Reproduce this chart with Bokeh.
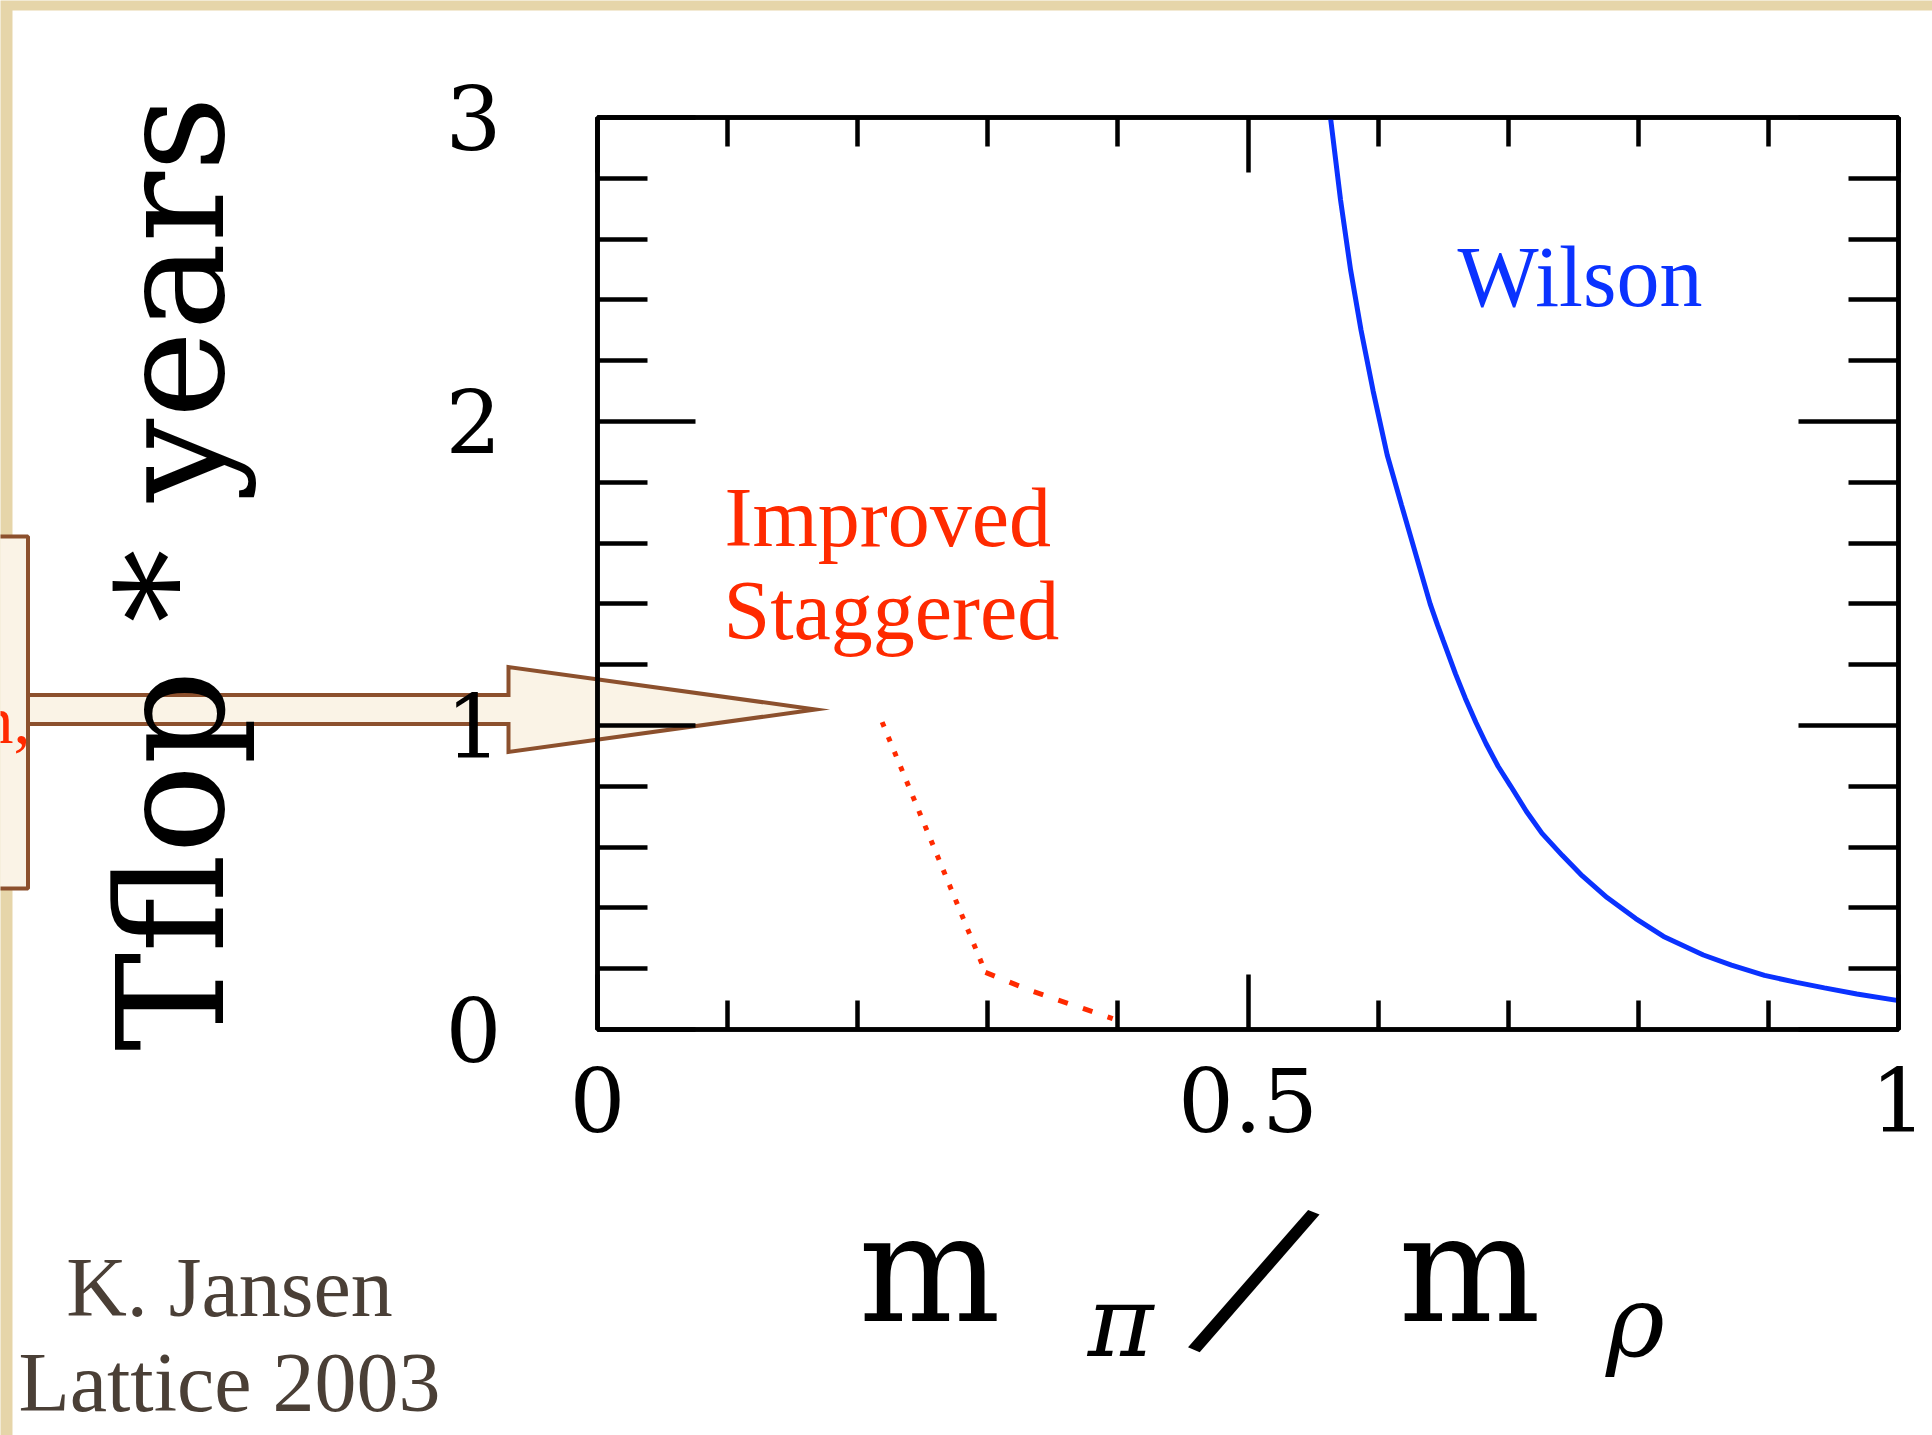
import math

from bokeh.core.properties import value
from bokeh.embed import file_html
from bokeh.models import FixedTicker, GridBox, Label, LinearAxis, Range1d
from bokeh.plotting import figure
from bokeh.resources import INLINE

# Simulation cost in Tflop * years against the mass ratio m_pi / m_rho
wilson_x = [0.5634, 0.5711, 0.5788, 0.5869, 0.5962, 0.607, 0.618, 0.640, 0.6457, 0.650,
            0.6595, 0.667, 0.6752, 0.683, 0.6922, 0.702, 0.7139, 0.726, 0.7417, 0.757,
            0.776, 0.798, 0.8194, 0.850, 0.8716, 0.897, 0.9216, 0.943, 0.968, 1.0]
wilson_y = [3.00, 2.73, 2.50, 2.30, 2.10, 1.89, 1.725, 1.40, 1.33, 1.28,
            1.17, 1.09, 1.01, 0.94, 0.866, 0.80, 0.718, 0.645, 0.572, 0.505,
            0.434, 0.365, 0.306, 0.245, 0.212, 0.178, 0.155, 0.137, 0.117, 0.095]

stag_x = [0.2188, 0.2585, 0.2982, 0.3328, 0.3960]
stag_y = [1.011, 0.600, 0.188, 0.128, 0.036]

x_major = [0, 0.5, 1]
x_tick_labels = ["0", "0.5", "1"]
x_minor = [0.1, 0.2, 0.3, 0.4, 0.6, 0.7, 0.8, 0.9]
y_major = [0, 1, 2, 3]
y_tick_labels = ["0", "1", "2", "3"]
y_minor = [0.2, 0.4, 0.6, 0.8, 1.2, 1.4, 1.6, 1.8, 2.2, 2.4, 2.6, 2.8]

W, H = 1932, 1435
TICK_FONT = "DejaVu Serif"
LABEL_FONT = "Liberation Serif"
BLUE = "#0a32ff"
RED = "#ff2a00"
BROWN = "#8c502d"
CREAM = "#faf3e6"
INK = "#4a3f36"
PAPER = "#e6d5a9"
RULE = 4.5


def free_frame(fig):
    # keep each layer's frame where its own borders put it
    if "frame_align" in fig.properties():
        fig.frame_align = False


# ---- page layer: paper, white sheet, call-out arrow and the texts around the plot
page = figure(width=W, height=H, x_range=Range1d(0, W), y_range=Range1d(H, 0),
              x_axis_type=None, y_axis_type=None, output_backend="svg",
              toolbar_location=None, min_border=0)
free_frame(page)
page.outline_line_color = None
page.background_fill_color = PAPER
page.border_fill_color = PAPER
page.quad(left=[12], right=[W], top=[10], bottom=[H], fill_color="white", line_color=None)

page.quad(left=[-60], right=[27.5], top=[536], bottom=[888],
          fill_color=CREAM, line_color=BROWN, line_width=4)
tip_x, tip_y = 815, 709
head_x, tail_x = 508, 27.5
shaft_half, head_half = 14.5, 42.5
page.patch([tail_x, head_x, head_x, tip_x, head_x, head_x, tail_x],
           [tip_y - shaft_half, tip_y - shaft_half, tip_y - head_half, tip_y,
            tip_y + head_half, tip_y + shaft_half, tip_y + shaft_half],
           fill_color=CREAM, line_color=BROWN, line_width=4, line_join="miter")


def page_text(x, y, text, font, size, color, align="center", baseline="bottom",
              angle=0.0, style="normal"):
    page.text(x=[x], y=[y], text=[text], angle=angle,
              text_font=value(font), text_font_size=value(size),
              text_font_style=value(style), text_color=color,
              text_align=value(align), text_baseline=value(baseline))


page_text(30, 757, "n,", LABEL_FONT, "68px", RED, align="right")

# axis titles
page_text(257, 573, "Tflop * years", TICK_FONT, "148px", "black", angle=math.pi / 2)
page_text(929, 1355, "m", TICK_FONT, "150px", "black")
page_text(1120, 1379, "π", TICK_FONT, "100px", "black", style="italic")
page_text(1254.5, 1277.5, "/", LABEL_FONT, "258px", "black", baseline="middle", angle=-0.387)
page_text(1469, 1355, "m", TICK_FONT, "150px", "black")
page_text(1635, 1379, "ρ", TICK_FONT, "100px", "black", style="italic")

# credit
page_text(229, 1333, "K. Jansen", LABEL_FONT, "84px", INK)
page_text(229, 1428, "Lattice 2003", LABEL_FONT, "84px", INK)

# ---- plot layer
p = figure(width=W, height=H,
           x_range=Range1d(0, 1), y_range=Range1d(0, 3),
           x_axis_type=None, y_axis_type=None,
           output_backend="svg", toolbar_location=None,
           min_border_left=597, min_border_right=34,
           min_border_top=117, min_border_bottom=406)
free_frame(p)
p.background_fill_alpha = 0
p.border_fill_alpha = 0
p.outline_line_color = "black"
p.outline_line_width = RULE


def frame_axis(ticks, minor, major_len, minor_len, labels=None, standoff=0):
    ax = LinearAxis(ticker=FixedTicker(ticks=ticks, minor_ticks=minor))
    ax.axis_line_width = RULE
    ax.major_tick_line_width = RULE
    ax.minor_tick_line_width = RULE
    ax.major_tick_in = major_len
    ax.major_tick_out = 0
    ax.minor_tick_in = minor_len
    ax.minor_tick_out = 0
    ax.major_label_text_font = TICK_FONT
    ax.major_label_text_font_size = "88px"
    ax.major_label_text_color = "black"
    if labels is not None:
        ax.major_label_overrides = dict(zip(ticks, labels))
        ax.major_label_standoff = standoff
    else:
        ax.major_label_overrides = {t: "" for t in ticks}
        ax.major_label_standoff = 0
    return ax


p.add_layout(frame_axis(x_major, x_minor, 55, 29, x_tick_labels, 38), "below")
p.add_layout(frame_axis(x_major, x_minor, 55, 29), "above")
p.add_layout(frame_axis(y_major, y_minor, 98, 50, y_tick_labels, 96), "left")
p.add_layout(frame_axis(y_major, y_minor, 100, 50), "right")

# curves
p.line(wilson_x, wilson_y, line_color=BLUE, line_width=5)
p.line(stag_x[:3], stag_y[:3], line_color=RED, line_width=5, line_dash="5 11")
p.line(stag_x[2:], stag_y[2:], line_color=RED, line_width=5, line_dash="10 16")

p.add_layout(Label(x=0.661, y=2.318, text="Wilson", text_font=LABEL_FONT,
                   text_font_size="86px", text_color=BLUE))
p.add_layout(Label(x=0.0976, y=1.530, text="Improved", text_font=LABEL_FONT,
                   text_font_size="84px", text_color=RED))
p.add_layout(Label(x=0.0968, y=1.226, text="Staggered", text_font=LABEL_FONT,
                   text_font_size="84px", text_color=RED))

root = GridBox(children=[(page, 0, 0), (p, 0, 0)])

open("out.html", "w").write(file_html(root, INLINE))
